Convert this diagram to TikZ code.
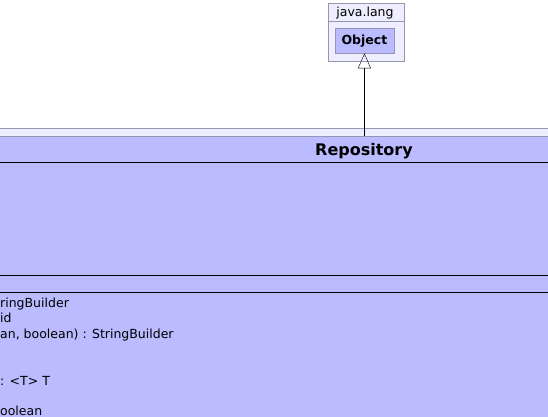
\documentclass[tikz,border=0pt]{standalone}
\usepackage{fontspec}
\setmainfont{DejaVu Sans}
\usetikzlibrary{arrows.meta}
\usetikzlibrary{positioning}
\definecolor{pkgfill}{RGB}{238,238,255}
\definecolor{classfill}{RGB}{187,187,255}
\definecolor{pkgline}{RGB}{150,150,180}
\tikzset{
    >={Triangle[open,width=13pt,length=15pt]},
    base/.style =   {
                        rectangle, draw=pkgline, inner sep=0pt,
                        anchor=north west
                    },
    package/.style = {base, fill=pkgfill},
    classbox/.style = {base, fill=classfill},
    label_text/.style = {anchor=base, inner sep=0pt},
    member/.style = {anchor=base west, inner sep=0pt, font=\fontsize{12.5}{15}\selectfont}
}

\begin{document}
\begin{tikzpicture}[x=1pt, y=-1pt]
    \useasboundingbox (0,0) rectangle (548,417);
    \clip (0,0) rectangle (548,417);

    \node (lang_pkg)     [package, minimum width=76pt, minimum height=57.5pt] at (327.5,3.5) {};
    \node (lang_name)    [label_text, font=\fontsize{12.5}{15}\selectfont] at (365,17) {java.lang};
    \node (object)       [classbox, minimum width=58.5pt, minimum height=24.5pt, font=\bfseries\fontsize{12.5}{15}\selectfont] at (335,28.5) {Object};

    \node (repo_pkg)     [package, minimum width=560pt, minimum height=300pt] at (-12.5,127.5) {};
    \node (repository)   [classbox, minimum width=560pt, minimum height=300pt] at (-12.5,136) {};
    \node (repo_name)    [label_text, font=\bfseries\fontsize{16}{19}\selectfont] at (364,155) {Repository};

    \node (m_append)     [member] at (0,307)   {ringBuilder};
    \node (m_void)       [member] at (0,322.6) {id};
    \node (m_format)     [member] at (0,338.2) {an, boolean) : StringBuilder};
    \node (m_generic)    [member] at (0,385)   {: <T> T};
    \node (m_bool)       [member] at (0,415.2) {oolean};

    \draw[pkgline]        (lang_pkg.west |- 0,21) -- (lang_pkg.east |- 0,21);
    \draw[thick]          (repository.west |- 0,162.5) -- (repository.east |- 0,162.5);
    \draw[thick]          (repository.west |- 0,275.3) -- (repository.east |- 0,275.3);
    \draw[thick]          (repository.west |- 0,292.3) -- (repository.east |- 0,292.3);

    \draw[->]             (object.south |- repository.north) -- (object.south);
\end{tikzpicture}
\end{document}
